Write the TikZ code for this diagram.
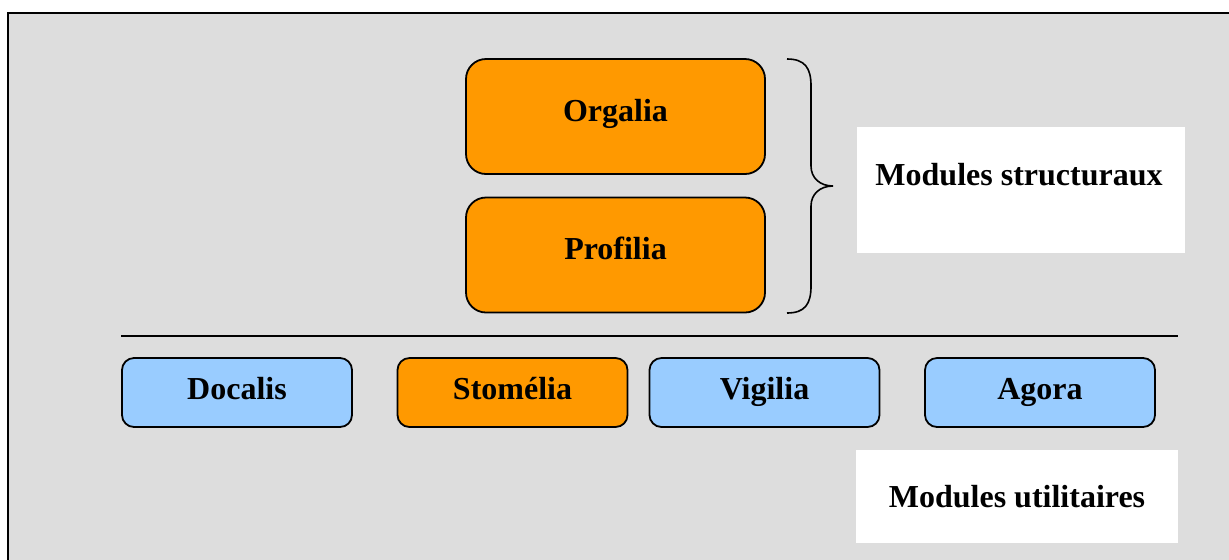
\documentclass[tikz,border=0pt]{standalone}
\usepackage{fontspec}
\setmainfont{Liberation Serif}
\usepackage{tikz}
\definecolor{orangebox}{HTML}{FF9900}
\definecolor{bluebox}{HTML}{99CCFF}
\definecolor{bggray}{HTML}{DDDDDD}

\begin{document}
\begin{tikzpicture}[x=0.5pt,y=-0.5pt,
  every node/.style={font=\fontsize{16}{19}\selectfont\bfseries, text height=0.7em, text depth=0.25em},
  bigbox/.style={draw, line width=0.9pt, fill=orangebox, rounded corners=10pt, minimum width=149.5pt, minimum height=57.5pt},
  smallbox/.style={draw, line width=0.9pt, rounded corners=6pt, minimum width=115pt, minimum height=34.5pt, text height=0.97em},
  whitebox/.style={fill=white, inner sep=0pt}]
\useasboundingbox (0,0) rectangle (1229,559);
\draw[line width=1.3pt, fill=bggray] (8,13) rectangle (1245,575);
\node[bigbox] (orgalia) at (615.5,116.5) {Orgalia};
\node[bigbox] (profilia) at (615.5,255) {Profilia};
\draw[line width=0.8pt] (787,59) .. controls (805,59) and (811,68) .. (811,86) -- (811,166)
  .. controls (811,178) and (820,186) .. (833,186)
  .. controls (820,186) and (811,194) .. (811,206) -- (811,286)
  .. controls (811,304) and (805,313) .. (787,313);
\node[whitebox, minimum width=164pt, minimum height=63pt] (structbox) at (1021,190) {};
\node (structlbl) at (1019,181) {Modules structuraux};
\draw[line width=0.8pt] (121,336) -- (1178,336);
\node[smallbox, fill=bluebox] (docalis) at (237,392.5) {Docalis};
\node[smallbox, fill=orangebox] (stomelia) at (512.5,392.5) {Stomélia};
\node[smallbox, fill=bluebox] (vigilia) at (764.5,392.5) {Vigilia};
\node[smallbox, fill=bluebox] (agora) at (1040,392.5) {Agora};
\node[whitebox, minimum width=161pt, minimum height=46.5pt, text height=1.3em] (utilbox) at (1017,496.5) {Modules utilitaires};
\end{tikzpicture}
\end{document}
